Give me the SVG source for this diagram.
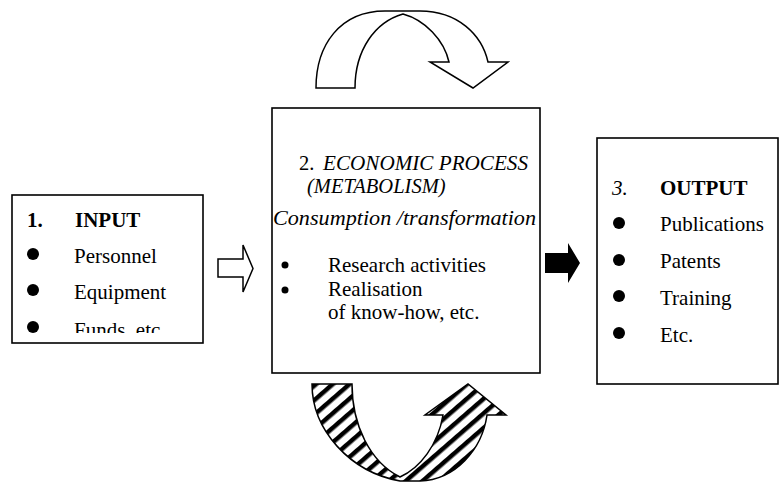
<svg xmlns="http://www.w3.org/2000/svg" width="781" height="482" viewBox="0 0 781 482">
<defs>
<style>
.box{fill:#fff;stroke:#000;stroke-width:1.6}
.t{font-family:"Liberation Serif","Times New Roman",serif;font-size:21px;fill:#000}
.b{font-weight:bold}
.i{font-style:italic}
.s{font-size:20.5px}
.arr{stroke:#000;stroke-width:1.5;stroke-linejoin:miter}
</style>
<pattern id="hatch" patternUnits="userSpaceOnUse" width="11" height="11" patternTransform="rotate(-41)">
<rect x="0" y="0" width="11" height="11" fill="#fff"/>
<rect x="0" y="0" width="11" height="4.5" fill="#000"/>
</pattern>
<clipPath id="inclip"><rect x="12" y="195" width="191" height="138"/></clipPath>
</defs>
<rect width="781" height="482" fill="#fff"/>
<g id="connectors">
<path class="arr" fill="#fff" d="M316,88 L355,88 C355,50 375,22 403,14 C425,20 444,40 449,62 L430,62 L473,88 L508,62 L488,62 C482,35 458,11 420,11 L385,11 C340,11 316,45 316,88 Z"/>
<path class="arr" fill="url(#hatch)" d="M312,384 L352,384 C352,425 370,462 400,477 C420,468 438,445 443,415 L425,415 L468,384 L506,415 L487,415 C482,450 455,480 420,481 L400,481 C350,472 312,430 312,384 Z"/>
<path class="arr" fill="#fff" stroke-width="1.3" d="M218,259 L243,259 L243,245 L253,268.5 L243,292 L243,277 L218,277 Z"/>
<path fill="#000" d="M545,253 L568,253 L568,243 L580,263 L568,283 L568,273 L545,273 Z"/>
</g>
<g id="input">
<rect class="box" x="12" y="195" width="191" height="148"/>
<text class="t b" x="27" y="227">1.</text>
<text class="t b" x="75" y="227">INPUT</text>
<circle cx="33" cy="254" r="6"/>
<circle cx="33" cy="290" r="6"/>
<circle cx="33" cy="327" r="6"/>
<text class="t" x="74" y="263">Personnel</text>
<text class="t" x="74" y="299">Equipment</text>
<text class="t" x="74" y="337" clip-path="url(#inclip)">Funds, etc.</text>
</g>
<g id="process">
<rect class="box" x="272" y="108" width="268" height="265"/>
<text class="t s" x="299" y="170">2.</text>
<text class="t i s" x="323" y="170" textLength="205" lengthAdjust="spacingAndGlyphs">ECONOMIC PROCESS</text>
<text class="t i s" x="307" y="193">(METABOLISM)</text>
<text class="t i" x="273" y="225" textLength="263" lengthAdjust="spacingAndGlyphs">Consumption /transformation</text>
<circle cx="285" cy="265" r="3.5"/>
<circle cx="285" cy="290" r="3.5"/>
<text class="t" x="328" y="272">Research activities</text>
<text class="t" x="328" y="296">Realisation</text>
<text class="t" x="328" y="319">of know-how, etc.</text>
</g>
<g id="output">
<rect class="box" x="597" y="138" width="181" height="246"/>
<text class="t i" x="612" y="195">3.</text>
<text class="t b" x="660" y="195">OUTPUT</text>
<circle cx="619" cy="223" r="6"/>
<circle cx="619" cy="260" r="6"/>
<circle cx="619" cy="296" r="6"/>
<circle cx="619" cy="333" r="6"/>
<text class="t" x="660" y="231">Publications</text>
<text class="t" x="660" y="268">Patents</text>
<text class="t" x="660" y="305">Training</text>
<text class="t" x="660" y="342">Etc.</text>
</g>
</svg>
